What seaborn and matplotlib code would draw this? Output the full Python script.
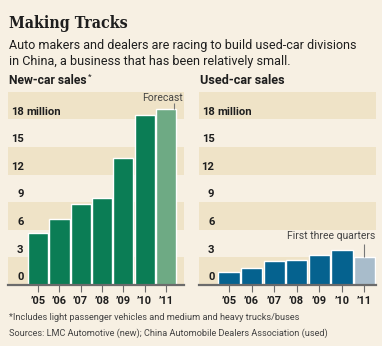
import matplotlib
matplotlib.use("Agg")
import matplotlib.pyplot as plt
import seaborn as sns
import pandas as pd

# Chart data
years = ["\u201905", "\u201906", "\u201907", "\u201908", "\u201909", "\u201910", "\u201911"]
new_car_sales = [5.7, 7.2, 8.8, 9.5, 13.8, 18.5, 19.1]     # millions
used_car_sales = [1.4, 1.85, 2.6, 2.7, 3.3, 3.8, 3.0]      # millions
y_ticks = [0, 3, 6, 9, 12, 15, 18]

BG = "#f7f0e3"
BAND = "#efe3c7"
GREEN, GREEN_LIGHT = "#0b7d55", "#6eaa84"
BLUE, BLUE_LIGHT = "#05628f", "#a8bccb"
INK = "#1e1e1e"
GREY = "#444444"

sns.set_theme(style="white")
plt.rcParams["font.family"] = ["Roboto", "DejaVu Sans"]

W, H = 382, 346
fig = plt.figure(figsize=(W / 100, H / 100), dpi=100, facecolor=BG)
renderer = fig.canvas.get_renderer()


def fx(px):
    return px / W


def fy(py):
    return 1 - py / H


def fit_size(s, width_px, **kw):
    """Font size (pt) at which string s spans width_px pixels."""
    t = fig.text(0, 0, s, fontsize=10, **kw)
    w = t.get_window_extent(renderer).width
    t.remove()
    return 10 * width_px / w


def fig_label(x_px, y_px, s, width_px, **kw):
    keys = ("fontweight", "family", "fontstretch")
    size = fit_size(s, width_px, **{k: v for k, v in kw.items() if k in keys})
    return fig.text(fx(x_px), fy(y_px), s, fontsize=size, ha="left", va="center", **kw)


num_size = fit_size("18 million", 50, fontweight="bold")
year_size = fit_size("\u201905", 15, fontweight="bold")
note_size = fit_size("First three quarters", 88)


def panel(left_px, right_px, values, colors, xlim, width):
    ax = fig.add_axes([fx(left_px), fy(285), fx(right_px - left_px), (285 - 91.7) / H])
    ax.set_facecolor(BG)
    for lo in (0, 6, 12, 18):
        ax.axhspan(lo, lo + 3, color=BAND, lw=0, zorder=0)
    df = pd.DataFrame({"year": years, "value": values})
    sns.barplot(data=df, x="year", y="value", hue="year", palette=colors,
                legend=False, width=width, saturation=1, ax=ax, zorder=2)
    ax.set_xlim(*xlim)
    ax.set_ylim(0, 21)
    for s in ("top", "right", "left"):
        ax.spines[s].set_visible(False)
    ax.spines["bottom"].set_color("#6b6b6b")
    ax.spines["bottom"].set_linewidth(1.6)
    ax.set_yticks([])
    ax.set_xlabel("")
    ax.set_ylabel("")
    ax.tick_params(axis="x", length=5, width=0.8, color="#6b6b6b", pad=3,
                   labelsize=year_size, labelcolor=INK, bottom=True)
    for lab in ax.get_xticklabels():
        lab.set_fontweight("bold")
    # value labels sitting just above each gridline
    trans = ax.get_yaxis_transform()
    for v in y_ticks:
        ax.annotate(str(v), xy=(0, v), xycoords=trans, xytext=(15.5 * 0.72, 2),
                    textcoords="offset points", ha="right", va="bottom",
                    fontsize=num_size, fontweight="bold", color=INK)
    ax.annotate("million", xy=(0, 18), xycoords=trans, xytext=(18.5 * 0.72, 2),
                textcoords="offset points", ha="left", va="bottom",
                fontsize=num_size, fontweight="bold", color=INK)
    return ax


green_colors = [GREEN] * 6 + [GREEN_LIGHT]
blue_colors = [BLUE] * 6 + [BLUE_LIGHT]

ax1 = panel(8, 184, new_car_sales, green_colors, (-1.41, 6.845), 0.95)
ax2 = panel(199, 376, used_car_sales, blue_colors, (-1.33, 6.51), 0.94)

# callouts
ax1.vlines(6.38, new_car_sales[6], new_car_sales[6] + 0.65, color="#777777", lw=0.8, zorder=3)
ax1.text(6.8, 20.3, "Forecast", ha="right", va="center", fontsize=note_size, color=GREY)
ax2.vlines(6.0, used_car_sales[6], used_car_sales[6] + 1.5, color="#777777", lw=0.8, zorder=3)
ax2.text(6.5, 5.3, "First three quarters", ha="right", va="center", fontsize=note_size, color=GREY)

# headings
fig_label(9, 24, "Making Tracks", 119, fontweight="bold", family=["DejaVu Serif"],
          fontstretch="condensed", color=INK)
fig_label(9, 45, "Auto makers and dealers are racing to build used-car divisions", 345, color=INK)
fig_label(9, 62, "in China, a business that has been relatively small.", 280, color=INK)
fig_label(9, 80, "New-car sales", 78, fontweight="bold", color=INK)
fig.text(fx(88), fy(77), "*", ha="left", va="center", fontsize=6, color=INK)
fig_label(200, 80, "Used-car sales", 85, fontweight="bold", color=INK)

# footnotes
fig_label(9, 318, "*Includes light passenger vehicles and medium and heavy trucks/buses", 290, color=GREY)
fig_label(9, 333, "Sources: LMC Automotive (new); China Automobile Dealers Association (used)", 320, color=GREY)

fig.savefig("out.png", dpi=100, facecolor=BG)
